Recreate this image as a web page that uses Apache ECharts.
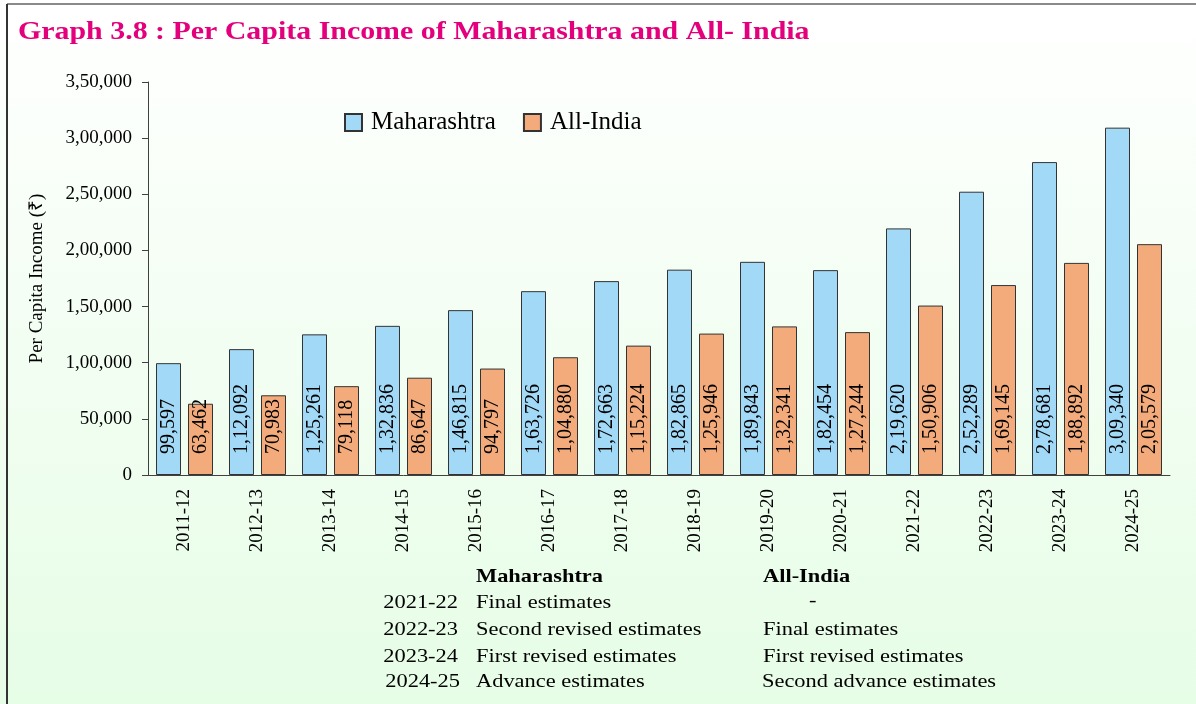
<!DOCTYPE html>
<html>
<head>
<meta charset="utf-8">
<script src="https://cdn.jsdelivr.net/npm/echarts@6/dist/echarts.min.js"></script>
<style>
html,body{margin:0;padding:0;background:#fff;}
#chart{width:1196px;height:704px;}
</style>
</head>
<body>
<div id="chart"></div>
<script>
const titleText = 'Graph 3.8 : Per Capita Income of Maharashtra and All- India';
const categories = ['2011-12','2012-13','2013-14','2014-15','2015-16','2016-17','2017-18','2018-19','2019-20','2020-21','2021-22','2022-23','2023-24','2024-25'];
const maharashtra = [99597,112092,125261,132836,146815,163726,172663,182865,189843,182454,219620,252289,278681,309340];
const allIndia = [63462,70983,79118,86647,94797,104880,115224,125946,132341,127244,150906,169145,188892,205579];
const seriesNames = ['Maharashtra','All-India'];
const yAxisName = 'Per Capita Income (₹)';
const noteHeaders = ['Maharashtra','All-India'];
const noteYears = ['2021-22','2022-23','2023-24','2024-25'];
const noteMaharashtra = ['Final estimates','Second revised estimates','First revised estimates','Advance estimates'];
const noteAllIndia = ['-','Final estimates','First revised estimates','Second advance estimates'];

function inr(v){
  const s = String(Math.round(v));
  if (s.length <= 3) return s;
  const last3 = s.slice(-3);
  let rest = s.slice(0, -3);
  const parts = [];
  while (rest.length > 2) { parts.unshift(rest.slice(-2)); rest = rest.slice(0, -2); }
  if (rest) parts.unshift(rest);
  return parts.join(',') + ',' + last3;
}

const SERIF = '"Liberation Serif","Times New Roman",serif';
const chart = echarts.init(document.getElementById('chart'));

const graphics = [];
graphics.push({type:'line', shape:{x1:7,y1:4,x2:1196,y2:4}, style:{stroke:'#8a8a8a', lineWidth:2}, silent:true});
graphics.push({type:'line', shape:{x1:7,y1:4,x2:7,y2:704}, style:{stroke:'#333', lineWidth:2}, silent:true});
graphics.push({type:'text', x:18, y:32, scaleX:1.15,
  style:{text:titleText, font:'bold 26px ' + SERIF, fill:'#E4007C', align:'left', verticalAlign:'middle'}});
const noteFont = '19px ' + SERIF;
const nsx = 1.18;
graphics.push({type:'text', x:476, y:577, scaleX:nsx, style:{text:noteHeaders[0], font:'bold ' + noteFont, fill:'#000', align:'left', verticalAlign:'middle'}});
graphics.push({type:'text', x:763, y:577, scaleX:nsx, style:{text:noteHeaders[1], font:'bold ' + noteFont, fill:'#000', align:'left', verticalAlign:'middle'}});
const rowY = [603, 630, 657, 682];
noteYears.forEach((yr, i) => {
  const yy = rowY[i];
  graphics.push({type:'text', x: i === 3 ? 460 : 458, y:yy, scaleX:nsx, style:{text:yr, font:noteFont, fill:'#000', align:'right', verticalAlign:'middle'}});
  graphics.push({type:'text', x:476, y:yy, scaleX:nsx, style:{text:noteMaharashtra[i], font:noteFont, fill:'#000', align:'left', verticalAlign:'middle'}});
  const ai = noteAllIndia[i];
  graphics.push({type:'text', x: ai === '-' ? 809 : (i === 3 ? 762 : 763), y: ai === '-' ? yy - 2 : yy, scaleX:nsx, style:{text:ai, font:noteFont, fill:'#000', align:'left', verticalAlign:'middle'}});
});

const labelCfg = {
  show:true, position:'insideBottom', rotate:90, align:'left', verticalAlign:'middle',
  distance:21, fontFamily:SERIF, fontSize:20, color:'#000',
  formatter: p => inr(p.value)
};

chart.setOption({
  backgroundColor: new echarts.graphic.LinearGradient(0,0,0,1,[
    {offset:0, color:'#ffffff'},
    {offset:1, color:'#e6fde6'}
  ]),
  animation:false,
  textStyle:{fontFamily:SERIF},
  graphic: graphics,
  legend:{
    left:344, top:110, padding:0, itemWidth:17, itemHeight:17, itemGap:27,
    icon:'rect',
    textStyle:{fontFamily:SERIF, fontSize:25, color:'#000', padding:[0,0,0,4]},
    data: seriesNames
  },
  grid:{left:148, right:26, top:82, bottom:229},
  xAxis:{
    type:'category', data:categories,
    axisLine:{lineStyle:{color:'#404040', width:1}},
    axisTick:{alignWithLabel:true, length:6, lineStyle:{color:'#404040'}},
    axisLabel:{rotate:90, margin:14, fontFamily:SERIF, fontSize:19, color:'#000'}
  },
  yAxis:{
    type:'value', min:0, max:350000, interval:50000,
    name:yAxisName, nameLocation:'middle', nameGap:101,
    nameTextStyle:{fontFamily:SERIF, fontSize:19, color:'#000'},
    axisLine:{show:true, lineStyle:{color:'#404040', width:1}},
    axisTick:{show:true, length:6, lineStyle:{color:'#404040'}},
    splitLine:{show:false},
    axisLabel:{margin:16, fontFamily:SERIF, fontSize:19, color:'#000', formatter: v => inr(v)}
  },
  series:[
    {name:seriesNames[0], type:'bar', data:maharashtra, barWidth:25, barGap:'28%',
     itemStyle:{color:'#A2D9F6', borderColor:'#333', borderWidth:1}, label:labelCfg},
    {name:seriesNames[1], type:'bar', data:allIndia, barWidth:25, barGap:'28%',
     itemStyle:{color:'#F3AB7C', borderColor:'#333', borderWidth:1}, label:labelCfg}
  ]
});
</script>
</body>
</html>
